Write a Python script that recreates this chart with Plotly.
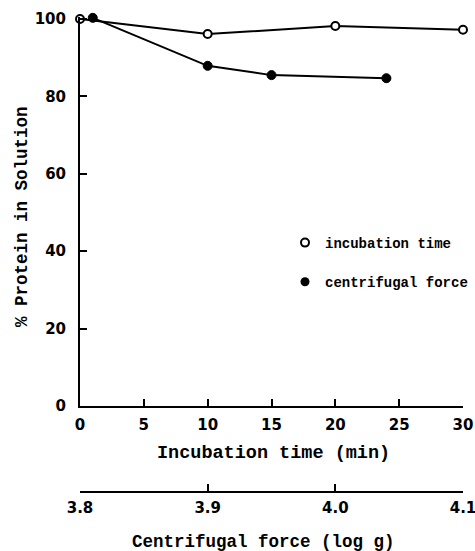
import plotly.graph_objects as go

# ---- data ----
time_min = [0, 10, 20, 30]
pct_time = [100.0, 96.1, 98.2, 97.2]

log_g = [3.81, 3.90, 3.95, 4.04]
pct_force = [100.3, 87.9, 85.5, 84.7]

x_ticks = [0, 5, 10, 15, 20, 25, 30]
x2_ticks = [3.8, 3.9, 4.0, 4.1]
x2_ticktext = ["3.8", "3.9", "4.0", "4.1"]
y_ticks = [0, 20, 40, 60, 80, 100]

W, H = 475, 551
ML, MR, MT, MB = 80, 12, 12, 20
PW = W - ML - MR
PH = H - MT - MB

def px_x(p):
    return (p - ML) / PW

def px_y(p):
    return (H - MB - p) / PH

TICKFONT = dict(family="DejaVu Sans", size=15, color="black", weight="bold")
TITLEFONT = "Liberation Mono"

Y0_PX, Y100_PX = 406, 19
Y_TOP = 100.6
Y_TOP_PX = Y0_PX - (Y0_PX - Y100_PX) * Y_TOP / 100

fig = go.Figure()

fig.add_trace(go.Scatter(
    x=time_min, y=pct_time, mode="lines+markers", xaxis="x", yaxis="y",
    line=dict(color="black", width=2),
    marker=dict(symbol="circle", size=8, color="white", line=dict(color="black", width=2)),
    cliponaxis=False, showlegend=False))
fig.add_trace(go.Scatter(
    x=log_g, y=pct_force, mode="lines+markers", xaxis="x2", yaxis="y",
    line=dict(color="black", width=2),
    marker=dict(symbol="circle", size=9, color="black", line=dict(color="black", width=1)),
    cliponaxis=False, showlegend=False))

fig.add_trace(go.Scatter(
    x=[None], y=[None], mode="markers", name="incubation time", legendgroup="a",
    marker=dict(symbol="circle", size=8, color="white", line=dict(color="black", width=2))))
fig.add_trace(go.Scatter(
    x=[None], y=[None], mode="markers", name="centrifugal force", legendgroup="b",
    marker=dict(symbol="circle", size=9, color="black")))

axis_common = dict(
    showline=True, linecolor="black", linewidth=2,
    ticks="inside", ticklen=7, tickwidth=1.5, tickcolor="black",
    showgrid=False, zeroline=False, tickfont=TICKFONT, ticklabeloverflow="allow",
)

fig.update_layout(
    width=W, height=H,
    margin=dict(l=ML, r=MR, t=MT, b=MB, autoexpand=False),
    paper_bgcolor="white", plot_bgcolor="white",
    xaxis=dict(range=[0, 30], tickvals=x_ticks, anchor="y", ticklabelstandoff=4,
               **axis_common),
    xaxis2=dict(range=[3.8, 4.1 + 1e-6], tickvals=x2_ticks, ticktext=x2_ticktext,
                overlaying="x", anchor="free", position=px_y(492), side="bottom",
                ticklabelstandoff=2, **axis_common),
    yaxis=dict(range=[0, Y_TOP], tickvals=y_ticks,
               domain=[px_y(Y0_PX), min(1.0, px_y(Y_TOP_PX))],
               anchor="x", ticklabelstandoff=9, **axis_common),
    showlegend=True,
    legend=dict(x=px_x(285), y=px_y(227), xanchor="left", yanchor="top",
                bgcolor="rgba(0,0,0,0)", tracegroupgap=18, traceorder="grouped",
                font=dict(family=TITLEFONT, size=14, color="black", weight="bold")),
    annotations=[
        dict(text="Incubation time (min)", x=px_x(273), y=px_y(453), xref="paper", yref="paper",
             showarrow=False, xanchor="center", yanchor="middle",
             font=dict(family=TITLEFONT, size=18.5, color="black", weight="bold")),
        dict(text="Centrifugal force (log g)", x=px_x(263), y=px_y(542), xref="paper", yref="paper",
             showarrow=False, xanchor="center", yanchor="middle",
             font=dict(family=TITLEFONT, size=17.5, color="black", weight="bold")),
        dict(text="% Protein in Solution", x=px_x(22), y=px_y(217), xref="paper", yref="paper",
             showarrow=False, xanchor="center", yanchor="middle", textangle=-90,
             font=dict(family=TITLEFONT, size=17.5, color="black", weight="bold")),
    ],
)

fig.write_html("out.html")
